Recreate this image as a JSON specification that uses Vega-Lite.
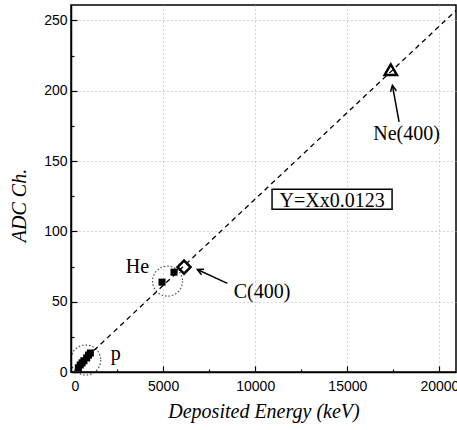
{
  "$schema": "https://vega.github.io/schema/vega-lite/v6.json",
  "width": 385,
  "height": 367,
  "autosize": "none",
  "padding": {"left": 71, "top": 5, "right": 1, "bottom": 58},
  "background": "white",
  "config": {
    "view": {"stroke": "black", "strokeWidth": 1.5},
    "axis": {
      "domainColor": "black",
      "domainWidth": 1.5,
      "tickColor": "black",
      "tickWidth": 1.2,
      "labelFont": "Liberation Sans",
      "labelFontSize": 14,
      "labelColor": "black",
      "titleFont": "Liberation Serif",
      "titleFontStyle": "italic",
      "titleFontWeight": "normal",
      "titleFontSize": 20,
      "titleColor": "black",
      "gridColor": "#aaaaaa",
      "gridDash": [1, 3],
      "gridWidth": 1
    }
  },
  "datasets": {
    "fit": [{"x": 1250, "y": 15.4}, {"x": 20900, "y": 257.1}],
    "circles": [{"x": 800, "y": 8.5}, {"x": 5240, "y": 64.6}],
    "box": [{"x": 10914, "x2": 17430, "y": 115.8, "y2": 130}],
    "eq": [{"x": 14172, "y": 117.4, "label": "Y=Xx0.0123"}],
    "pts": [
      {"x": 400, "y": 3},
      {"x": 500, "y": 5},
      {"x": 600, "y": 6.5},
      {"x": 700, "y": 8},
      {"x": 850, "y": 10},
      {"x": 950, "y": 12},
      {"x": 1050, "y": 13.5},
      {"x": 4941, "y": 63.9},
      {"x": 5593, "y": 71}
    ],
    "c": [{"x": 6136, "y": 74.6}],
    "ne": [{"x": 17360, "y": 215}],
    "arrows": [
      {"x": 8487, "y": 63, "x2": 6858, "y2": 72.9},
      {"x": 17810, "y": 177.8, "x2": 17447, "y2": 203.8}
    ],
    "headC": [{"x": 6858, "y": 72.9}],
    "headNe": [{"x": 17447, "y": 203.8}],
    "labels": [
      {"x": 3611, "y": 70.3, "label": "He"},
      {"x": 2427, "y": 8.5, "label": "p"},
      {"x": 10371, "y": 52.6, "label": "C(400)"},
      {"x": 18217, "y": 164.8, "label": "Ne(400)"}
    ]
  },
  "encoding": {
    "x": {
      "field": "x",
      "type": "quantitative",
      "scale": {"domain": [0, 20900], "nice": false},
      "axis": {
        "title": "Deposited Energy (keV)",
        "values": [0, 2500, 5000, 7500, 10000, 12500, 15000, 17500, 20000],
        "format": "d",
        "labelExpr": "datum.value % 5000 === 0 ? datum.label : ''",
        "grid": true,
        "gridOpacity": {"condition": {"test": "datum.value % 5000 === 0 && datum.value > 0", "value": 1}, "value": 0},
        "tickSize": {"condition": {"test": "datum.value % 5000 === 0", "value": -6}, "value": -3},
        "labelPadding": 13,
        "titlePadding": 8
      }
    },
    "y": {
      "field": "y",
      "type": "quantitative",
      "scale": {"domain": [0, 261], "nice": false},
      "axis": {
        "title": "ADC Ch.",
        "values": [0, 25, 50, 75, 100, 125, 150, 175, 200, 225, 250],
        "labelExpr": "datum.value % 50 === 0 ? datum.label : ''",
        "grid": true,
        "gridOpacity": {"condition": {"test": "datum.value % 50 === 0 && datum.value > 0", "value": 1}, "value": 0},
        "tickSize": {"condition": {"test": "datum.value % 50 === 0", "value": -6}, "value": -3},
        "labelPadding": 10,
        "titlePadding": 14,
        "titleY": 200
      }
    }
  },
  "layer": [
    {
      "data": {"name": "fit"},
      "mark": {"type": "line", "color": "black", "strokeWidth": 1.3, "strokeDash": [5, 4], "clip": true}
    },
    {
      "data": {"name": "circles"},
      "mark": {"type": "point", "shape": "circle", "filled": false, "color": "black", "size": 900, "strokeWidth": 1.2, "strokeDash": [1.5, 2]}
    },
    {
      "data": {"name": "box"},
      "mark": {"type": "rect", "fill": "white", "stroke": "black", "strokeWidth": 1.5},
      "encoding": {"x2": {"field": "x2"}, "y2": {"field": "y2"}}
    },
    {
      "data": {"name": "eq"},
      "mark": {"type": "text", "font": "Liberation Serif", "fontSize": 20, "color": "black", "align": "center", "baseline": "alphabetic"},
      "encoding": {"text": {"field": "label"}}
    },
    {
      "data": {"name": "pts"},
      "mark": {"type": "point", "shape": "square", "filled": true, "color": "black", "size": 50, "opacity": 1}
    },
    {
      "data": {"name": "c"},
      "mark": {"type": "point", "shape": "diamond", "filled": false, "color": "black", "size": 170, "strokeWidth": 2.5, "opacity": 1}
    },
    {
      "data": {"name": "ne"},
      "mark": {"type": "point", "shape": "triangle-up", "filled": false, "color": "black", "size": 150, "strokeWidth": 2.5, "opacity": 1}
    },
    {
      "data": {"name": "arrows"},
      "mark": {"type": "rule", "color": "black", "strokeWidth": 1.5},
      "encoding": {"x2": {"field": "x2"}, "y2": {"field": "y2"}}
    },
    {
      "data": {"name": "headC"},
      "mark": {"type": "point", "shape": "M -0.6 1.2 L 0 0 L 0.6 1.2", "filled": false, "color": "black", "size": 100, "strokeWidth": 1.5, "angle": 295, "opacity": 1}
    },
    {
      "data": {"name": "headNe"},
      "mark": {"type": "point", "shape": "M -0.6 1.2 L 0 0 L 0.6 1.2", "filled": false, "color": "black", "size": 100, "strokeWidth": 1.5, "angle": 350, "opacity": 1}
    },
    {
      "data": {"name": "labels"},
      "mark": {"type": "text", "font": "Liberation Serif", "fontSize": 20, "color": "black", "align": "center", "baseline": "alphabetic"},
      "encoding": {"text": {"field": "label"}}
    }
  ]
}
